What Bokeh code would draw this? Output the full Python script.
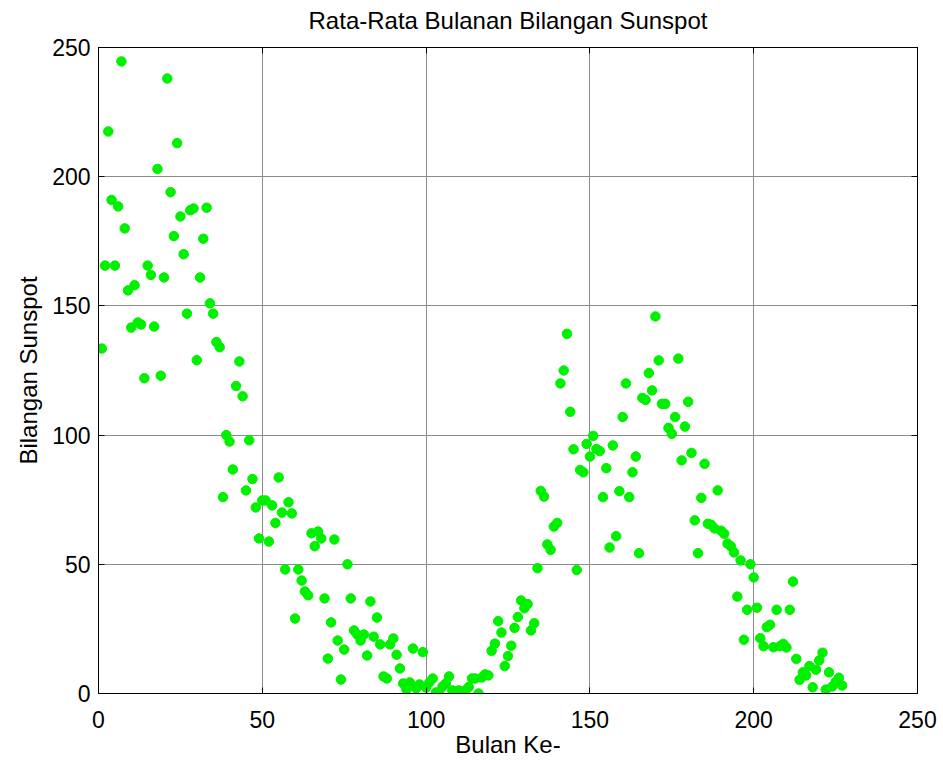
from bokeh.plotting import figure
from bokeh.models import (FixedTicker, LinearAxis, Range1d, ColumnDataSource,
                          CustomLabelingPolicy)
from bokeh.embed import file_html
from bokeh.resources import INLINE

title_text = "Rata-Rata Bulanan Bilangan Sunspot"
x_label = "Bulan Ke-"
y_label = "Bilangan Sunspot"
x_ticks = [0, 50, 100, 150, 200, 250]
y_ticks = [0, 50, 100, 150, 200, 250]

# monthly mean sunspot numbers
sunspot = [
    133.5, 165.6, 217.5, 191, 165.6, 188.5, 244.6, 180, 156, 141.6,
    158, 143.6, 142.8, 122, 165.6, 162, 142, 203, 123, 161,
    238, 194, 177, 213, 184.6, 170, 147, 187, 187.7, 129,
    161, 176, 188, 151, 147, 136, 134, 76, 100, 97.5,
    86.7, 119, 128.5, 115, 78.6, 98, 83, 72, 60, 74.7,
    74.7, 58.8, 72.8, 66, 83.6, 70, 48, 74, 69.7, 29,
    48, 43.7, 39.5, 38, 62, 57, 62.7, 60, 36.8, 13.5,
    27.5, 59.6, 20.5, 5.4, 17, 50, 36.8, 24.4, 22.8, 20.5,
    22.8, 14.7, 35.6, 22, 29.4, 19, 6.6, 5.8, 19, 21.3,
    15, 9.7, 3.9, 1.5, 4.3, 17.4, 2, 3.5, 16, 2.3,
    4.3, 5.8, 0.4, 0.4, 2.7, 3.9, 6.6, 1.2, 0.8, 1.2,
    0.4, 1.2,
    2.5, 5.8, 5.8, 0, 6.2, 7.4, 7, 16.5, 19.3, 28,
    23.6, 10.6, 14.5, 18.5, 25.4, 29.6, 36, 33, 34.6, 24.4,
    27.2,
    48.5, 78.4, 76.2, 57.7, 55.6, 64.6, 66, 120, 125, 139.2,
    109, 94.5, 47.8, 86.5, 85.6, 96.6, 91.7, 99.7, 94.6, 93.8,
    76, 87.2, 56.5, 96, 60.9, 78.3, 107, 120, 76, 85.6,
    91.7, 54.3,
    114.4, 113.6, 124, 117.3, 145.9, 128.9, 112.1, 112.1, 102.8, 100.5,
    107, 129.6, 90.2, 103.3, 112.9, 93.1, 67, 54.3, 75.7, 88.9,
    65.7, 65.3, 63.9, 78.6, 63, 61.8, 58, 57, 54.6, 37.5,
    51.5, 20.8, 32.4, 50, 44.9, 33.2, 21.4, 18.3, 25.7, 26.6,
    17.9, 32.4, 18.3, 19.2, 17.8, 32.4, 43.3, 13.4, 5.3, 8.2,
    7, 10.6, 2.4, 9.2, 12.8, 15.8, 1.5, 8.2, 2.7, 4.4,
    6.1, 3.1,
]
months = list(range(1, len(sunspot) + 1))

FONT = "Liberation Sans"

p = figure(width=938, height=760,
           x_range=Range1d(0, 250), y_range=Range1d(0, 250),
           output_backend="svg", toolbar_location=None,
           min_border_left=98, min_border_right=21,
           min_border_top=47, min_border_bottom=67)

p.title.text = title_text
p.title.text_font = FONT
p.title.text_font_size = "24px"
p.title.text_font_style = "normal"
p.title.align = "center"
p.title.text_color = "black"
p.title.standoff = 6

p.background_fill_color = "white"
p.border_fill_color = "white"
p.outline_line_color = "black"
p.outline_line_width = 1

p.grid.grid_line_color = "#8c8c8c"
p.grid.grid_line_width = 1
p.xgrid.ticker = FixedTicker(ticks=x_ticks)
p.ygrid.ticker = FixedTicker(ticks=y_ticks)

for ax, ticks in ((p.xaxis[0], x_ticks), (p.yaxis[0], y_ticks)):
    ax.ticker = FixedTicker(ticks=ticks)
    ax.major_tick_in = 6
    ax.major_tick_out = 0
    ax.minor_tick_line_color = None
    ax.axis_line_color = "black"
    ax.major_tick_line_color = "black"
    ax.major_label_text_font = FONT
    ax.major_label_text_font_size = "23px"
    ax.major_label_text_color = "black"
    ax.axis_label_text_font = FONT
    ax.axis_label_text_font_size = "24px"
    ax.axis_label_text_font_style = "normal"
    ax.axis_label_text_color = "black"

p.xaxis.axis_label = x_label
p.yaxis.axis_label = y_label
p.xaxis.major_label_standoff = 17
p.xaxis.axis_label_standoff = 0
p.yaxis.major_label_standoff = 8
p.yaxis.axis_label_standoff = 7

no_labels = CustomLabelingPolicy(code="""
for (const i of indices) indices.unset(i)
return indices
""")

for side, ticks in (("above", x_ticks), ("right", y_ticks)):
    ax = LinearAxis(ticker=FixedTicker(ticks=ticks))
    ax.major_tick_in = 6
    ax.major_tick_out = 0
    ax.minor_tick_line_color = None
    ax.axis_line_color = "black"
    ax.major_label_policy = no_labels
    ax.major_label_standoff = 0
    p.add_layout(ax, side)

src = ColumnDataSource(dict(month=months, value=sunspot))
p.scatter("month", "value", source=src, size=9.5, marker="circle",
          fill_color="#00f000", line_color="#00f000")

open("out.html", "w").write(file_html(p, INLINE))
